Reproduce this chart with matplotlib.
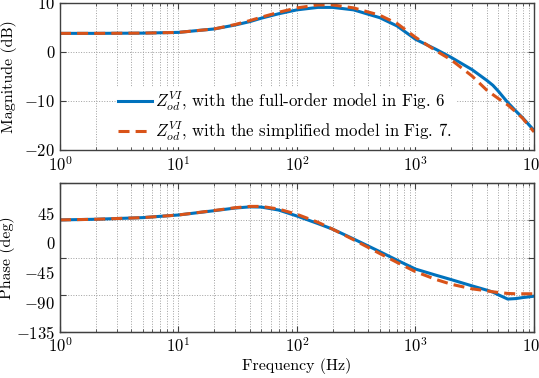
"""Bode plot of Z_od^VI: full-order vs simplified model (magnitude and phase)."""
import numpy as np
import matplotlib
matplotlib.use("Agg")
import matplotlib.pyplot as plt

# Frequencias (Hz)
freq = [1, 2, 5, 10, 20, 30, 40, 50, 70, 100, 150, 200, 300, 500, 700,
        1000, 1500, 2000, 3000, 4000, 4500, 5000, 6000, 7000, 8000, 10000]

# Magnitud (dB)
mag_full = [3.8, 3.8, 3.85, 4.0, 4.7, 5.5, 6.2, 6.9, 7.8, 8.6, 9.1, 9.1, 8.6,
            7.0, 5.3, 2.6, 0.5, -1.1, -3.6, -5.8, -6.8, -8.0, -10.3, -12.0,
            -13.4, -16.0]
mag_simp = [3.8, 3.8, 3.85, 4.0, 4.7, 5.6, 6.4, 7.1, 8.1, 9.0, 9.6, 9.6, 9.0,
            7.5, 5.8, 3.0, 0.2, -1.6, -4.9, -7.8, -8.7, -9.5, -10.8, -12.2,
            -13.5, -16.3]

# Fase (grados)
ph_full = [34.5, 35.5, 38.0, 42.0, 48.5, 52.5, 54.3, 54.0, 49.5, 40.4, 29.0,
           20.5, 5.7, -13.6, -26.6, -40.0, -49.5, -56.0, -65.5, -72.0, -75.0,
           -79.0, -85.5, -84.8, -83.3, -81.2]
ph_simp = [34.5, 35.5, 38.0, 42.0, 48.8, 53.0, 55.0, 55.0, 51.0, 43.0, 31.0,
           20.5, 4.5, -16.5, -30.0, -44.0, -56.0, -63.0, -70.0, -73.0, -74.5,
           -75.5, -77.0, -77.5, -77.5, -77.5]

LABELS = [r"$Z_{od}^{VI}$, with the full-order model in Fig. 6",
          r"$Z_{od}^{VI}$, with the simplified model in Fig. 7."]
MAG_TICKS = [-20, -10, 0, 10]
PH_TICKS = [-135, -90, -45, 0, 45]

BLUE = "#0072BD"
ORANGE = "#D95319"
SPINE = "#404040"
GRID = "#a0a0a0"

plt.rcParams.update({
    "font.family": "serif",
    "font.serif": ["cmr10"],
    "mathtext.fontset": "cm",
    "axes.formatter.use_mathtext": True,
    "font.size": 11.5,
})

fig = plt.figure(figsize=(5.39, 3.78), dpi=100)
ax1 = fig.add_axes([0.1113, 0.6032, 0.8794, 0.3889])
ax2 = fig.add_axes([0.1113, 0.1225, 0.8794, 0.3925])


def estilo(ax):
    ax.set_xscale("log")
    ax.set_xlim(1, 1e4)
    for s in ax.spines.values():
        s.set_color(SPINE)
        s.set_linewidth(1.0)
    ax.tick_params(which="both", direction="in", top=True, right=True,
                   colors=SPINE, labelcolor="black", labelsize=12)
    ax.tick_params(which="major", length=4)
    ax.tick_params(which="minor", length=2)
    ax.grid(True, which="both", axis="x", ls=":", color=GRID, lw=0.7)


kw_full = dict(color=BLUE, lw=2.2)
kw_simp = dict(color=ORANGE, lw=2.2, ls=(0, (3.6, 2.0)))

# --- Magnitud ---
estilo(ax1)
ax1.plot(freq, mag_full, label=LABELS[0], **kw_full)
ax1.plot(freq, mag_simp, label=LABELS[1], **kw_simp)
ax1.set_ylim(-20, 10)
ax1.set_yticks(MAG_TICKS)
ax1.set_yticklabels([rf"${v}$" for v in MAG_TICKS])
ax1.grid(True, axis="y", ls=":", color=GRID, lw=0.7)
ax1.set_ylabel("Magnitude (dB)")
ax1.yaxis.set_label_coords(-0.091, 0.5)
leg = ax1.legend(loc="upper left", bbox_to_anchor=(0.118, 0.43),
                 borderaxespad=0, borderpad=0.15, frameon=True, fancybox=False,
                 facecolor="white", edgecolor="white", framealpha=1,
                 handlelength=2.0, handletextpad=0.2, labelspacing=0.4,
                 fontsize=12.1)

# --- Fase ---
# Rejilla horizontal en un eje gemelo (escala -135..45) bajo las curvas
axg = ax2.twinx()
axg.set_ylim(-135, 45)
axg.set_yticks(PH_TICKS)
axg.tick_params(axis="y", which="both", direction="in", left=True, right=True,
                labelright=False, labelleft=False, length=4, colors=SPINE)
axg.grid(True, axis="y", ls=":", color=GRID, lw=0.7)
axg.set_zorder(0)
ax2.set_zorder(1)
ax2.patch.set_visible(False)

estilo(ax2)
ax2.plot(freq, ph_full, **kw_full)
ax2.plot(freq, ph_simp, **kw_simp)
ax2.set_ylim(-135, 90)
ax2.set_yticks(PH_TICKS)
ax2.set_yticklabels([rf"${v}$" for v in PH_TICKS])
ax2.tick_params(axis="y", which="both", length=0, left=False, right=False)
ax2.set_ylabel("Phase (deg)")
ax2.yaxis.set_label_coords(-0.094, 0.5)
ax2.set_xlabel("Frequency (Hz)", labelpad=2)

fig.savefig("out.png", dpi=100)
